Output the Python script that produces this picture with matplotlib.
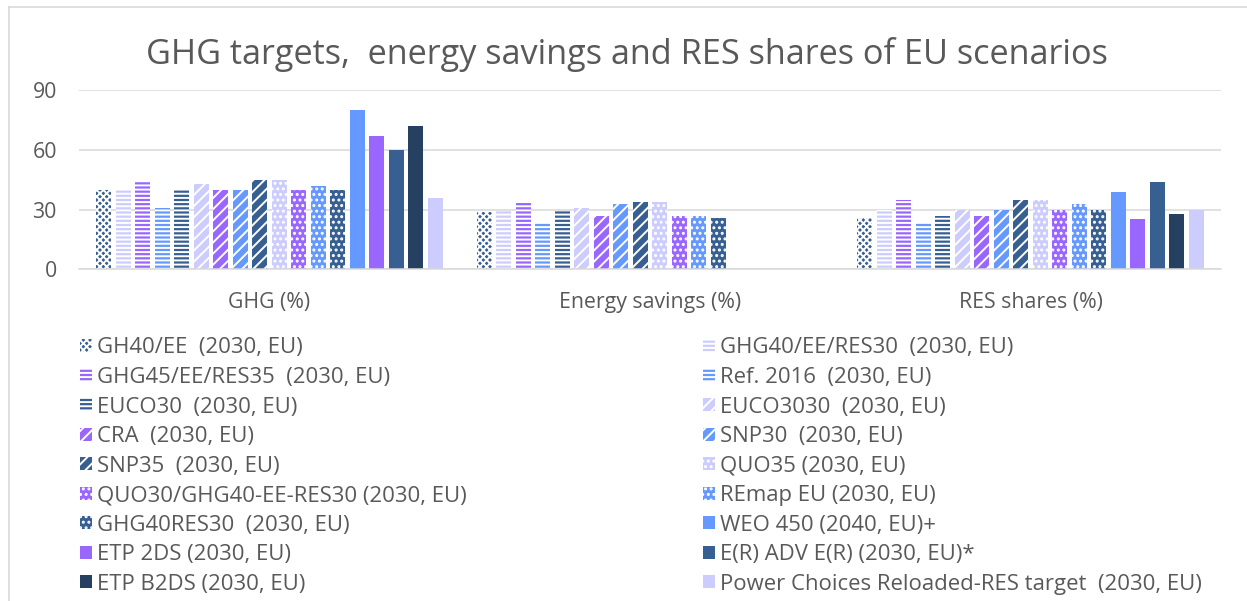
import numpy as np
import matplotlib
matplotlib.use("Agg")
import matplotlib.pyplot as plt
from matplotlib.lines import Line2D

# ── DATA ────────────────────────────────────────────────────
categories = ["GHG (%)", "Energy savings (%)", "RES shares (%)"]

scenarios = [
    "GH40/EE  (2030, EU)",
    "GHG40/EE/RES30  (2030, EU)",
    "GHG45/EE/RES35  (2030, EU)",
    "Ref. 2016  (2030, EU)",
    "EUCO30  (2030, EU)",
    "EUCO3030  (2030, EU)",
    "CRA  (2030, EU)",
    "SNP30  (2030, EU)",
    "SNP35  (2030, EU)",
    "QUO35 (2030, EU)",
    "QUO30/GHG40-EE-RES30 (2030, EU)",
    "REmap EU (2030, EU)",
    "GHG40RES30  (2030, EU)",
    "WEO 450 (2040, EU)+",
    "ETP 2DS (2030, EU)",
    "E(R) ADV E(R) (2030, EU)*",
    "ETP B2DS (2030, EU)",
    "Power Choices Reloaded-RES target  (2030, EU)",
]

nan = np.nan
ghg = [40, 40, 44, 31, 40, 43, 40, 40, 45, 45, 40, 42, 40, 80, 67, 60, 72, 36]
energy_savings = [28.7, 29.3, 33.5, 23.8, 29.3, 30.7, 27, 32.7, 33.7, 33.7, 27, 27, 26,
                  nan, nan, nan, nan, nan]
res_shares = [26, 29.7, 35, 23, 27, 30, 27, 30, 35, 35, 30, 33, 30, 39, 25, 44, 28, 30]

yticks = [0, 30, 60, 90]

# ── STYLE ───────────────────────────────────────────────────
DKBLUE = "#375F92"
LAV = "#CCCCFF"
PURPLE = "#9966FF"
BLUE = "#6699FF"
NAVY = "#254061"
TXT = "#595959"
GRID = "#D9D9D9"

colors = [DKBLUE, LAV, PURPLE, BLUE, DKBLUE, LAV, PURPLE, BLUE, DKBLUE,
          LAV, PURPLE, BLUE, DKBLUE, BLUE, PURPLE, DKBLUE, NAVY, LAV]
hatches = ["xxxxx", "----", "----", "----", "----", "///", "///", "///", "///",
           "...", "...", "...", "...", None, None, None, None, None]

plt.rcParams["font.family"] = ["Open Sans", "DejaVu Sans"]
plt.rcParams["hatch.linewidth"] = 1.4

W, H = 1247, 601
fig = plt.figure(figsize=(W / 100, H / 100), dpi=100)
ax = fig.add_axes([79 / W, 1 - 269.3 / H, (1221 - 79) / W, (269.3 - 90) / H])

# ── BARS ────────────────────────────────────────────────────
data = np.array([ghg, energy_savings, res_shares]).T
x = np.arange(len(categories))
step = 19.5 / 380.7
width = 15 / 380.7
handles = []
for j, name in enumerate(scenarios):
    h = hatches[j]
    bars = ax.bar(x + (j - 8.5) * step, data[j], width,
                  color=colors[j], hatch=h,
                  edgecolor="white" if h else colors[j],
                  linewidth=0, label=name, zorder=2)
    handles.append(bars)

ax.set_xlim(-0.5, 2.5)
ax.set_ylim(0, 90)
ax.set_yticks(yticks)
ax.set_xticks(x)
ax.set_xticklabels(categories)
ax.tick_params(axis="both", length=0, labelsize=15.3, colors=TXT)
ax.tick_params(axis="x", pad=16)
ax.tick_params(axis="y", pad=16)
ax.grid(axis="y", color=GRID, linewidth=1.1, zorder=0)
ax.set_axisbelow(True)
for s in ["top", "right", "left"]:
    ax.spines[s].set_visible(False)
ax.spines["bottom"].set_color(GRID)
ax.spines["bottom"].set_linewidth(1.1)

fig.text(0.503, 1 - 54 / H, "GHG targets,  energy savings and RES shares of EU scenarios",
         ha="center", va="center", fontsize=24.7, color=TXT)

# ── LEGEND (row-wise, two columns) ──────────────────────────
leg_kw = dict(loc="upper left", frameon=False, fontsize=15.9, labelcolor=TXT,
              handlelength=0.545, handleheight=0.545, handletextpad=0.23,
              labelspacing=0.385, borderpad=0, borderaxespad=0)
left = fig.legend(handles[0::2], scenarios[0::2],
                  bbox_to_anchor=(80 / W, 1 - 337.5 / H), **leg_kw)
right = fig.legend(handles[1::2], scenarios[1::2],
                   bbox_to_anchor=(703 / W, 1 - 337.5 / H), **leg_kw)

# chart border (top and left visible)
fig.add_artist(Line2D([9 / W, 1.0], [1 - 7 / H] * 2, color=GRID, linewidth=1.2,
                      transform=fig.transFigure))
fig.add_artist(Line2D([9 / W] * 2, [0, 1 - 7 / H], color=GRID, linewidth=1.2,
                      transform=fig.transFigure))

fig.savefig("out.png", dpi=100)
